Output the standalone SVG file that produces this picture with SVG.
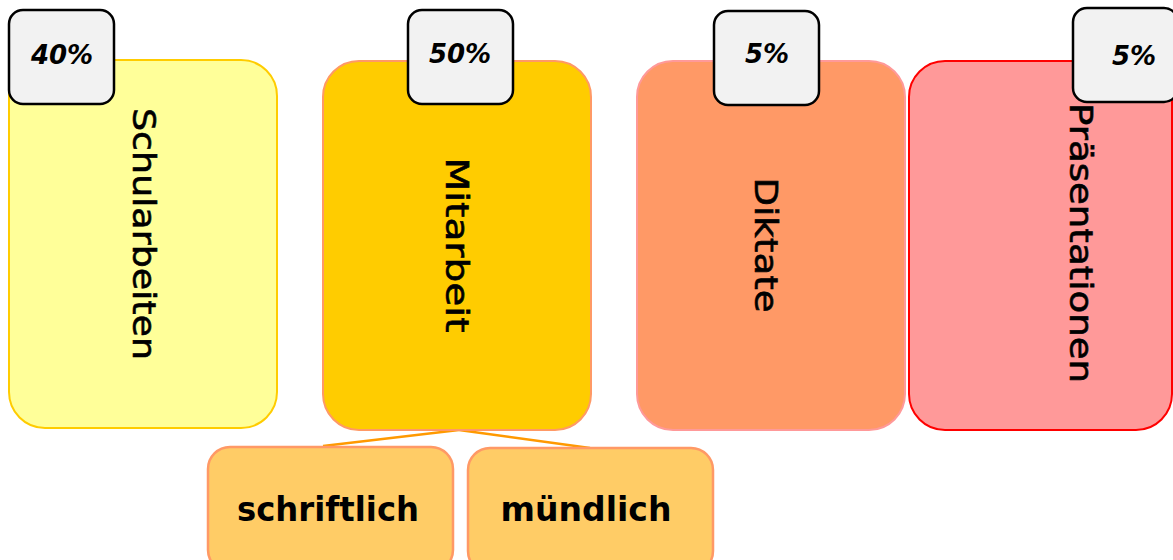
<svg xmlns="http://www.w3.org/2000/svg" width="1173" height="560" viewBox="0 0 1173 560">
<style>
.lbl{font-family:"DejaVu Sans","Liberation Sans",sans-serif;font-size:32px;fill:#000;stroke:#000;stroke-width:0.6;text-anchor:middle;dominant-baseline:central}
.badge{fill:#f2f2f2;stroke:#000;stroke-width:2.5}
.pct{font-family:"DejaVu Sans","Liberation Sans",sans-serif;font-size:26px;font-weight:bold;font-style:italic;fill:#000;text-anchor:middle;dominant-baseline:central}
.sub{font-family:"DejaVu Sans","Liberation Sans",sans-serif;font-size:34px;font-weight:bold;fill:#000;text-anchor:middle}
.conn{stroke:#ff9900;stroke-width:2.5;fill:none}
</style>
<g id="connectors">
<line class="conn" x1="459" y1="430" x2="323" y2="446"/>
<line class="conn" x1="459" y1="430" x2="590" y2="448"/>
</g>
<g id="schularbeiten">
<rect x="9" y="60" width="268" height="368" rx="36" fill="#ffff99" stroke="#ffcc00" stroke-width="2"/>
<text class="lbl" transform="translate(144,234) rotate(90)" textLength="252" lengthAdjust="spacingAndGlyphs">Schularbeiten</text>
</g>
<g id="mitarbeit">
<rect x="323" y="61" width="268" height="369" rx="36" fill="#ffcc00" stroke="#ff9966" stroke-width="2"/>
<text class="lbl" transform="translate(457,245) rotate(90)" textLength="175" lengthAdjust="spacingAndGlyphs">Mitarbeit</text>
</g>
<g id="diktate">
<rect x="637" y="61" width="268" height="369" rx="36" fill="#ff9966" stroke="#ff9999" stroke-width="2"/>
<text class="lbl" transform="translate(766,245) rotate(90)" textLength="135" lengthAdjust="spacingAndGlyphs">Diktate</text>
</g>
<g id="praesentationen">
<rect x="909" y="61" width="263" height="369" rx="36" fill="#ff9999" stroke="#ff0000" stroke-width="2"/>
<text class="lbl" transform="translate(1081,243) rotate(90)" textLength="280" lengthAdjust="spacingAndGlyphs">Präsentationen</text>
</g>
<g id="badge40">
<rect class="badge" x="9" y="10" width="105" height="94" rx="14"/>
<text class="pct" x="62" y="55">40%</text>
</g>
<g id="badge50">
<rect class="badge" x="408" y="10" width="105" height="94" rx="14"/>
<text class="pct" x="460" y="54">50%</text>
</g>
<g id="badge5a">
<rect class="badge" x="714" y="11" width="105" height="94" rx="14"/>
<text class="pct" x="767" y="54">5%</text>
</g>
<g id="badge5b">
<rect class="badge" x="1073" y="8" width="105" height="94" rx="14"/>
<text class="pct" x="1134" y="56">5%</text>
</g>
<g id="schriftlich">
<rect x="208" y="447" width="245" height="125" rx="22" fill="#ffcc66" stroke="#ff9966" stroke-width="2.5"/>
<text class="sub" x="328" y="521" textLength="182" lengthAdjust="spacingAndGlyphs">schriftlich</text>
</g>
<g id="muendlich">
<rect x="468" y="448" width="245" height="125" rx="22" fill="#ffcc66" stroke="#ff9966" stroke-width="2.5"/>
<text class="sub" x="586" y="521" textLength="171" lengthAdjust="spacingAndGlyphs">mündlich</text>
</g>
</svg>
